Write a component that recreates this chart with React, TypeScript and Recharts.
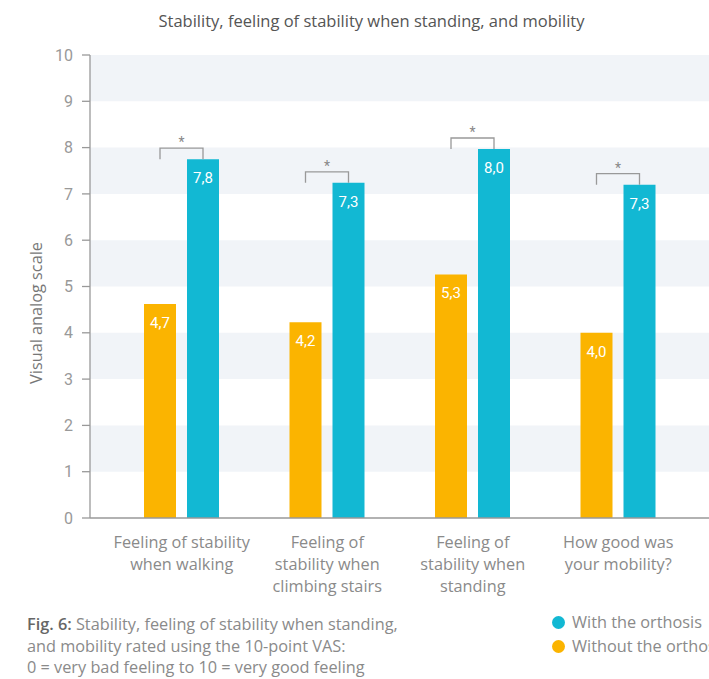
import React from "react";
import {
	BarChart,
	Bar,
	XAxis,
	YAxis,
	ReferenceArea,
	LabelList,
} from "recharts";

const categories = [
	["Feeling of stability", "when walking"],
	["Feeling of", "stability when", "climbing stairs"],
	["Feeling of", "stability when", "standing"],
	["How good was", "your mobility?"],
];
const withoutOrthosis = [4.62, 4.23, 5.26, 4.0];
const withOrthosis = [7.75, 7.24, 7.97, 7.2];
const withoutLabels = ["4,7", "4,2", "5,3", "4,0"];
const withLabels = ["7,8", "7,3", "8,0", "7,3"];
const yTicks = [0, 1, 2, 3, 4, 5, 6, 7, 8, 9, 10];
const bands = [
	[1, 2],
	[3, 4],
	[5, 6],
	[7, 8],
	[9, 10],
];

const data = categories.map((c, i) => ({
	name: i,
	without: withoutOrthosis[i],
	with: withOrthosis[i],
	span: 0.5,
}));

const TEXT_FONT = "'Open Sans', 'Noto Sans', sans-serif";
const NUM_FONT = "Roboto, 'Noto Sans', sans-serif";
const ORANGE = "#FBB400";
const BLUE = "#12B8D3";
const GAP = 11;

const CategoryTick = (props: any) => {
	const { x, y, payload } = props;
	const lines = categories[payload.value] || [];
	return (
		<g>
			{lines.map((l, i) => (
				<text
					key={i}
					x={x}
					y={y + 22 + i * 22}
					textAnchor="middle"
					fill="#8a8a8a"
					fontSize={16.3}
					fontFamily={TEXT_FONT}
				>
					{l}
				</text>
			))}
		</g>
	);
};

const Bracket = (props: any) => {
	const { x, y, width } = props;
	const left = x - GAP - width / 2;
	const right = x + width / 2;
	const top = y - 11;
	return (
		<g>
			<path
				d={`M${left},${y} L${left},${top} L${right},${top} L${right},${y}`}
				fill="none"
				stroke="#999"
				strokeWidth={1.3}
			/>
			<text
				x={(left + right) / 2}
				y={top - 1}
				textAnchor="middle"
				fill="#888"
				fontSize={14}
				fontFamily={NUM_FONT}
			>
				*
			</text>
		</g>
	);
};

const ValueLabel = (labels: string[]) => (props: any) => {
	const { x, y, width, index } = props;
	return (
		<text
			x={x + width / 2}
			y={y + 24}
			textAnchor="middle"
			fill="#fff"
			fontSize={15}
			fontFamily={NUM_FONT}
		>
			{labels[index]}
		</text>
	);
};

export default function App() {
	return (
		<div
			style={{
				position: "absolute",
				left: 0,
				top: 0,
				width: 709,
				height: 679,
				background: "#fff",
				fontFamily: TEXT_FONT,
				overflow: "hidden",
			}}
		>
			<div
				style={{
					position: "absolute",
					top: 9,
					left: 0,
					width: 743,
					textAlign: "center",
					fontSize: 16.5,
					color: "#555",
					whiteSpace: "nowrap",
				}}
			>
				Stability, feeling of stability when standing, and mobility
			</div>
			<BarChart
				width={709}
				height={600}
				data={data}
				margin={{ top: 55, right: 0, left: 30, bottom: 52 }}
				barSize={32}
				barGap={GAP}
				style={{ position: "absolute", left: 0, top: 0 }}
			>
				<XAxis
					xAxisId="band"
					dataKey="span"
					type="number"
					domain={[0, 1]}
					allowDataOverflow
					hide
				/>
				{bands.map(([a, b]) => (
					<ReferenceArea
						key={a}
						xAxisId="band"
						x1={0}
						x2={1}
						y1={a}
						y2={b}
						fill="#F1F4F8"
						fillOpacity={1}
						stroke="none"
					/>
				))}
				<XAxis
					dataKey="name"
					type="category"
					padding={{ left: 19, right: 18 }}
					axisLine={{ stroke: "#999", strokeWidth: 1.3 }}
					tickLine={false}
					tick={<CategoryTick />}
					interval={0}
				/>
				<YAxis
					width={60}
					domain={[0, 10]}
					ticks={yTicks}
					interval={0}
					axisLine={{ stroke: "#999", strokeWidth: 1.3 }}
					tickLine={{ stroke: "#999", strokeWidth: 1.3 }}
					tickSize={8}
					tickMargin={9}
					tick={{ fill: "#999", fontSize: 16, fontFamily: NUM_FONT }}
					label={{
						content: () => (
							<text
								x={42}
								y={313}
								transform="rotate(-90 42 313)"
								textAnchor="middle"
								fill="#777"
								fontSize={16.3}
								fontFamily={TEXT_FONT}
							>
								Visual analog scale
							</text>
						),
					}}
				/>
				<Bar dataKey="without" fill={ORANGE} isAnimationActive={false}>
					<LabelList content={ValueLabel(withoutLabels)} />
				</Bar>
				<Bar dataKey="with" fill={BLUE} isAnimationActive={false}>
					<LabelList content={ValueLabel(withLabels)} />
					<LabelList content={<Bracket />} />
				</Bar>
			</BarChart>
			<div
				style={{
					position: "absolute",
					left: 27,
					top: 614,
					fontSize: 16.3,
					lineHeight: "21.5px",
					color: "#8a8a8a",
					whiteSpace: "nowrap",
				}}
			>
				<span style={{ color: "#666", fontWeight: 600 }}>Fig. 6:</span> Stability,
				feeling of stability when standing,
				<br />
				and mobility rated using the 10-point VAS:
				<br />0 = very bad feeling to 10 = very good feeling
			</div>
			<div
				style={{
					position: "absolute",
					left: 552,
					top: 610,
					fontSize: 16.3,
					lineHeight: "24px",
					color: "#8a8a8a",
					whiteSpace: "nowrap",
				}}
			>
				{[
					{ c: BLUE, t: "With the orthosis" },
					{ c: ORANGE, t: "Without the orthosis" },
				].map((it) => (
					<div key={it.t} style={{ display: "flex", alignItems: "center" }}>
						<span
							style={{
								display: "inline-block",
								width: 13,
								height: 13,
								borderRadius: "50%",
								background: it.c,
								marginRight: 7,
							}}
						/>
						{it.t}
					</div>
				))}
			</div>
		</div>
	);
}
